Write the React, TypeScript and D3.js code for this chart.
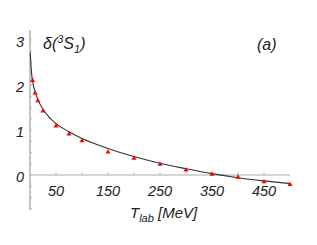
import React from 'react';
import * as d3 from 'd3';

// phase shift data (radians)
const dataT = [5, 10, 15, 25, 50, 75, 100, 150, 200, 250, 300, 350, 400, 450, 500];
const dataDelta = [2.1, 1.82, 1.65, 1.42, 1.09, 0.91, 0.76, 0.51, 0.37, 0.24, 0.11, 0.015, -0.05, -0.15, -0.21];

// model curve
const curveT = [0.5, 1, 3, 5, 10, 15, 25, 35, 50, 75, 100, 150, 200, 250, 300, 350, 400, 450, 500];
const curveDelta = [2.72, 2.62, 2.27, 2.08, 1.84, 1.68, 1.46, 1.31, 1.14, 0.96, 0.81, 0.59, 0.41, 0.26, 0.14, 0.03, -0.06, -0.13, -0.19];

const xTickLabels = [50, 150, 250, 350, 450];
const xTicks = [50, 100, 150, 200, 250, 300, 350, 400, 450];
const yTickLabels = [0, 1, 2, 3];
const yMinorTicks = [-0.75, -0.5, -0.25, 0.25, 0.5, 0.75, 1, 1.25, 1.5, 1.75, 2, 2.25, 2.5, 2.75, 3];

const W = 317;
const H = 245;
const font = '"Liberation Sans", Arial, sans-serif';

const App: React.FC = () => {
  const x = d3.scaleLinear().domain([0, 500]).range([30, 290]);
  const y = d3.scaleLinear().domain([0, 3]).range([175, 40]);

  const line = d3
    .line<number>()
    .x((d, i) => x(curveT[i]))
    .y((d) => y(d))
    .curve(d3.curveMonotoneX);

  const tri = d3.symbol().type(d3.symbolTriangle).size(11);

  return (
    <svg width={W} height={H} style={{ position: 'absolute', left: 0, top: 0, background: '#fff' }}>
      {/* y axis */}
      <line x1={x(0)} x2={x(0)} y1={y(3.22)} y2={y(-0.78)} stroke="#888" strokeWidth={1} />
      {yMinorTicks.map((t) => (
        <line key={t} x1={x(0)} x2={x(0) + 2} y1={y(t)} y2={y(t)} stroke="#bbb" strokeWidth={1} />
      ))}
      {/* zero line */}
      <line x1={x(0)} x2={x(500)} y1={y(0)} y2={y(0)} stroke="#aaa" strokeWidth={1} />
      {xTicks.map((t) => (
        <line key={t} x1={x(t)} x2={x(t)} y1={y(0)} y2={y(0) - 3} stroke="#bbb" strokeWidth={1} />
      ))}

      {/* y tick labels */}
      {yTickLabels.map((t) => (
        <text
          key={t}
          x={24}
          y={y(t) + 7}
          textAnchor="end"
          fontFamily={font}
          fontStyle="italic"
          fontSize={14.5}
          fill="#222"
        >
          {t}
        </text>
      ))}

      {/* x tick labels */}
      {xTickLabels.map((t) => (
        <text
          key={t}
          x={x(t)}
          y={196}
          textAnchor="middle"
          fontFamily={font}
          fontStyle="italic"
          fontSize={14.5}
          fill="#222"
        >
          {t}
        </text>
      ))}

      {/* curve */}
      <path d={line(curveDelta) || ''} fill="none" stroke="#333" strokeWidth={1.1} />

      {/* data points */}
      {dataT.map((t, i) => (
        <path key={t} d={tri() || ''} transform={`translate(${x(t)},${y(dataDelta[i])})`} fill="#ff0000" />
      ))}

      {/* title */}
      <text x={43} y={49} fontFamily={font} fontStyle="italic" fontSize={16} fill="#222">
        δ(
        <tspan fontSize={11} dy={-6}>3</tspan>
        <tspan dy={6}>S</tspan>
        <tspan fontSize={11} dy={4}>1</tspan>
        <tspan dy={-4}>)</tspan>
      </text>

      <text x={257} y={50} fontFamily={font} fontStyle="italic" fontSize={16} fill="#222">
        (a)
      </text>

      {/* x axis label */}
      <text x={130} y={218} fontFamily={font} fontStyle="italic" fontSize={15} fill="#222">
        T<tspan fontSize={11} dy={4}>lab</tspan>
        <tspan dy={-4}> [MeV]</tspan>
      </text>
    </svg>
  );
};

export default App;
